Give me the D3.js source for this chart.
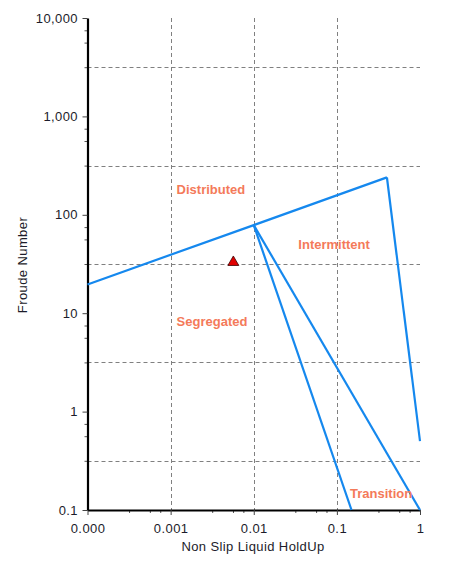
<!DOCTYPE html>
<html>
<head>
<meta charset="utf-8">
<script src="https://cdn.jsdelivr.net/npm/d3@7"></script>
<style>
  body { margin: 0; background: #fff; }
  svg text { font-family: 'Liberation Sans', Arial, sans-serif; }
</style>
</head>
<body>
<div id="chart"></div>
<script>
// flow pattern map data
var xTicks = [0.0001, 0.001, 0.01, 0.1, 1]
var xTickLabels = ['0.000', '0.001', '0.01', '0.1', '1']
var yTicks = [0.1, 1, 10, 100, 1000, 10000]
var yTickLabels = ['0.1', '1', '10', '100', '1,000', '10,000']
var minorSteps = [0.5, 0.75, 0.875] // minor tick offsets inside a decade (log)
var gridX = [0.001, 0.01, 0.1]
var gridY = [0.316, 3.16, 31.6, 316, 3162]

var lineL1 = [[0.0001, 19.6], [0.01, 78.6], [0.4, 240]]
var lineL4 = [[0.4, 240], [1, 0.5]]
var lineL3 = [[0.01, 78.6], [1, 0.1]]
var lineL2 = [[0.01, 78.6], [0.15, 0.1]]

var regionNames = ['Distributed', 'Intermittent', 'Segregated', 'Transition']
var regionX = [0.00118, 0.0344, 0.00118, 0.144]
var regionY = [163, 45.2, 7.41, 0.132]

var pointX = [0.00568]
var pointY = [32.9]

function drawChart () {
  var width = 450
  var height = 562
  var margin = {top: 18, right: 30, bottom: 52, left: 87.5}
  var svg = d3.select('#chart').append('svg')
    .attr('width', width)
    .attr('height', height)

  var x = d3.scaleLog().domain([0.0001, 1]).range([margin.left, width - margin.right])
  var y = d3.scaleLog().domain([0.1, 10000]).range([height - margin.bottom, margin.top])

  function minors (ticks) {
    var out = []
    ticks.slice(0, -1).forEach(function (t) {
      minorSteps.forEach(function (s) { out.push(t * Math.pow(10, s)) })
    })
    return out
  }

  // grid
  var grid = svg.append('g')
    .attr('stroke', '#808080')
    .attr('stroke-width', 1)
    .attr('stroke-dasharray', '4,3')
  grid.selectAll('.gx').data(gridX).enter().append('line')
    .attr('x1', function (d) { return Math.round(x(d)) + 0.5 })
    .attr('x2', function (d) { return Math.round(x(d)) + 0.5 })
    .attr('y1', y(10000))
    .attr('y2', y(0.1))
  grid.selectAll('.gy').data(gridY).enter().append('line')
    .attr('x1', x(0.0001))
    .attr('x2', x(1))
    .attr('y1', function (d) { return Math.round(y(d)) + 0.5 })
    .attr('y2', function (d) { return Math.round(y(d)) + 0.5 })

  // minor ticks
  svg.append('g')
    .attr('transform', 'translate(0,' + y(0.1) + ')')
    .call(d3.axisBottom(x).tickValues(minors(xTicks)).tickSize(3).tickFormat(''))
    .call(function (g) { g.select('.domain').remove() })
    .selectAll('line').attr('stroke', '#555')
  svg.append('g')
    .attr('transform', 'translate(' + x(0.0001) + ',0)')
    .call(d3.axisLeft(y).tickValues(minors(yTicks)).tickSize(3).tickFormat(''))
    .call(function (g) { g.select('.domain').remove() })
    .selectAll('line').attr('stroke', '#555')

  // major axes
  var axisX = svg.append('g')
    .attr('transform', 'translate(0,' + y(0.1) + ')')
    .call(d3.axisBottom(x).tickValues(xTicks).tickSize(5).tickSizeOuter(0).tickPadding(9)
      .tickFormat(function (d, i) { return xTickLabels[i] }))
  var axisY = svg.append('g')
    .attr('transform', 'translate(' + x(0.0001) + ',0)')
    .call(d3.axisLeft(y).tickValues(yTicks).tickSize(5).tickSizeOuter(0).tickPadding(4.5)
      .tickFormat(function (d, i) { return yTickLabels[i] }))
  ;[axisX, axisY].forEach(function (a) {
    a.select('.domain').attr('stroke', '#000').attr('stroke-width', 2.2)
    a.selectAll('.tick line').attr('stroke', '#444')
    a.selectAll('.tick text')
      .attr('font-family', "'Liberation Sans', Arial, sans-serif")
      .attr('font-size', 13)
      .attr('letter-spacing', 0.4)
      .attr('fill', '#1c1c2a')
  })

  // boundaries
  var line = d3.line()
    .x(function (d) { return x(d[0]) })
    .y(function (d) { return y(d[1]) })
  svg.append('g').selectAll('path')
    .data([lineL1, lineL4, lineL3, lineL2])
    .enter().append('path')
    .attr('d', line)
    .attr('fill', 'none')
    .attr('stroke', '#1588ee')
    .attr('stroke-width', 2.2)
    .attr('stroke-linejoin', 'miter')

  // region names
  svg.append('g').selectAll('text')
    .data(regionNames)
    .enter().append('text')
    .attr('x', function (d, i) { return x(regionX[i]) })
    .attr('y', function (d, i) { return y(regionY[i]) })
    .attr('font-size', 13)
    .attr('font-weight', 'bold')
    .attr('fill', '#f47a5a')
    .text(function (d) { return d })

  // operating point
  svg.append('g').selectAll('path')
    .data(pointX)
    .enter().append('path')
    .attr('transform', function (d, i) { return 'translate(' + x(d) + ',' + y(pointY[i]) + ')' })
    .attr('d', d3.symbol().type(d3.symbolTriangle).size(52))
    .attr('fill', '#e00000')
    .attr('stroke', '#3a0000')
    .attr('stroke-width', 0.8)

  // titles
  svg.append('text')
    .attr('transform', 'translate(27,' + 265 + ') rotate(-90)')
    .attr('text-anchor', 'middle')
    .attr('font-size', 13)
    .attr('letter-spacing', 0.4)
    .attr('fill', '#1c1c2a')
    .text('Froude Number')
  svg.append('text')
    .attr('x', 253)
    .attr('y', 551)
    .attr('text-anchor', 'middle')
    .attr('font-size', 13)
    .attr('letter-spacing', 0.4)
    .attr('fill', '#1c1c2a')
    .text('Non Slip Liquid HoldUp')
}

drawChart()
</script>
</body>
</html>
